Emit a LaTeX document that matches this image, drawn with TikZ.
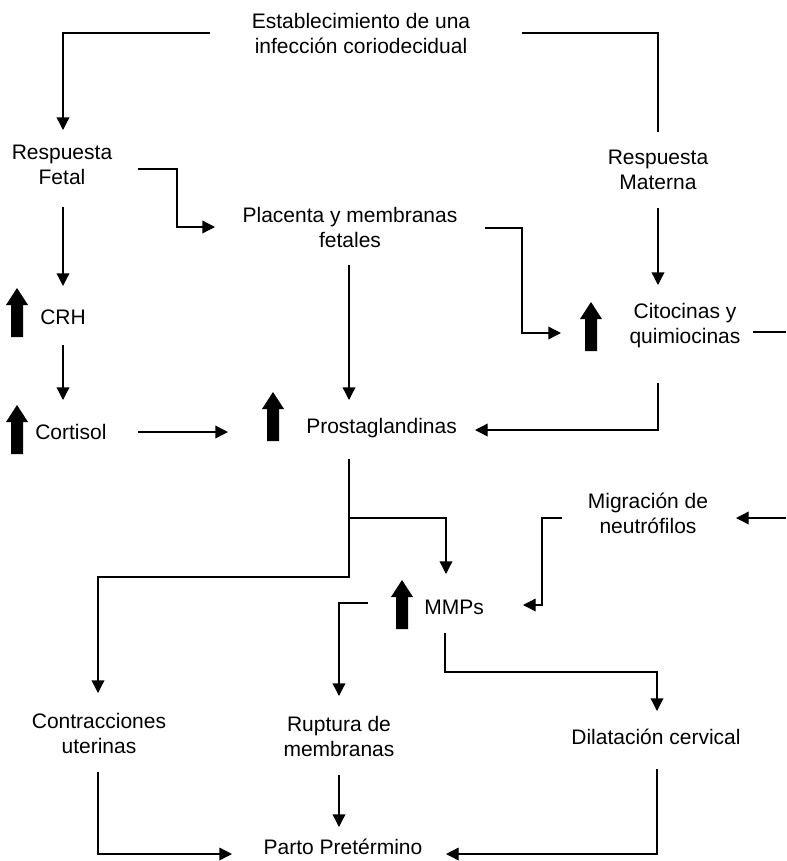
\documentclass[tikz,border=0pt]{standalone}
\usepackage{fontspec}
\setmainfont{Liberation Sans}
\usetikzlibrary{arrows.meta}
\begin{document}
\begin{tikzpicture}[x=0.75pt,y=-0.75pt,
  lbl/.style={font=\fontsize{15.75pt}{18.75pt}\selectfont, align=center, inner sep=0pt},
  conn/.style={line width=1pt},
  arr/.style={conn, -{Triangle[width=9.5pt,length=9.5pt]}},
  bigup/.pic={\fill (0,-25) -- (11,-8) -- (6,-8) -- (6,24) -- (-6,24) -- (-6,-8) -- (-11,-8) -- cycle;}]
\useasboundingbox (0,0) rectangle (786,861);

% nodes
\node[lbl] (title) at (361,33) {Establecimiento de una\\infección coriodecidual};
\node[lbl] (fetal) at (62,165) {Respuesta\\Fetal};
\node[lbl] (materna) at (658,170) {Respuesta\\Materna};
\node[lbl] (placenta) at (350,227) {Placenta y membranas\\fetales};
\node[lbl, anchor=west] (crh) at (40,317) {CRH};
\node[lbl, anchor=west] (cortisol) at (35,432) {Cortisol};
\node[lbl, anchor=west] (prosta) at (306,428) {Prostaglandinas};
\node[lbl] (cito) at (685,326) {Citocinas y\\quimiocinas};
\node[lbl] (migr) at (648,513) {Migración de\\neutrófilos};
\node[lbl, anchor=west] (mmps) at (424,607) {MMPs};
\node[lbl] (contr) at (99,733) {Contracciones\\uterinas};
\node[lbl] (rupt) at (339,736) {Ruptura de\\membranas};
\node[lbl] (dilat) at (656,737) {Dilatación cervical};
\node[lbl] (parto) at (343,847) {Parto Pretérmino};

% thick up arrows
\pic at (17,313) {bigup};
\pic at (17,430) {bigup};
\pic at (273,417) {bigup};
\pic at (591,327) {bigup};
\pic at (402,605) {bigup};

% connector end points
\coordinate (t1) at (210,33);
\coordinate (t2) at (522,33);
\coordinate (fin1) at (63,130);
\coordinate (min1) at (658,132);
\coordinate (f1) at (63,207);
\coordinate (crhin) at (63,286);
\coordinate (f2) at (138,169);
\coordinate (plin) at (215,227);
\coordinate (c1) at (63,345);
\coordinate (cortin) at (63,400);
\coordinate (co1) at (138,432);
\coordinate (prin1) at (228,432);
\coordinate (pl1) at (349,265);
\coordinate (prin2) at (349,400);
\coordinate (pl2) at (485,228);
\coordinate (citin1) at (561,333);
\coordinate (m1) at (658,208);
\coordinate (citin2) at (658,285);
\coordinate (ci1) at (753,332);
\coordinate (edge1) at (786,332);
\coordinate (ci2) at (658,383);
\coordinate (prin3) at (475,430);
\coordinate (pr1) at (349,459);
\coordinate (split) at (349,518);
\coordinate (mmin1) at (446,574);
\coordinate (contrin) at (98,693);
\coordinate (edge2) at (786,518);
\coordinate (migin) at (736,518);
\coordinate (mi1) at (562,518);
\coordinate (mmin2) at (523,605);
\coordinate (mm1) at (368,603);
\coordinate (ruptin) at (339,696);
\coordinate (mm2) at (445,633);
\coordinate (dilin) at (657,711);
\coordinate (co2) at (98,772);
\coordinate (pain1) at (232,854);
\coordinate (ru1) at (339,775);
\coordinate (pain2) at (339,827);
\coordinate (di1) at (657,769);
\coordinate (pain3) at (446,854);

% connectors
\draw[arr] (t1) -| (fin1);
\draw[conn] (t2) -| (min1);
\draw[arr] (f1) -- (crhin);
\draw[arr] (f2) -- (177,169) |- (plin);
\draw[arr] (c1) -- (cortin);
\draw[arr] (co1) -- (prin1);
\draw[arr] (pl1) -- (prin2);
\draw[arr] (pl2) -- (522,228) |- (citin1);
\draw[arr] (m1) -- (citin2);
\draw[conn] (ci1) -- (edge1);
\draw[arr] (ci2) |- (prin3);
\draw[arr] (pr1) -- (split) -| (mmin1);
\draw[arr] (split) -- (349,577) -| (contrin);
\draw[arr] (edge2) -- (migin);
\draw[arr] (mi1) -- (542,518) |- (mmin2);
\draw[arr] (mm1) -| (ruptin);
\draw[arr] (mm2) |- (657,672) -- (dilin);
\draw[arr] (co2) |- (pain1);
\draw[arr] (ru1) -- (pain2);
\draw[arr] (di1) |- (pain3);
\end{tikzpicture}
\end{document}
